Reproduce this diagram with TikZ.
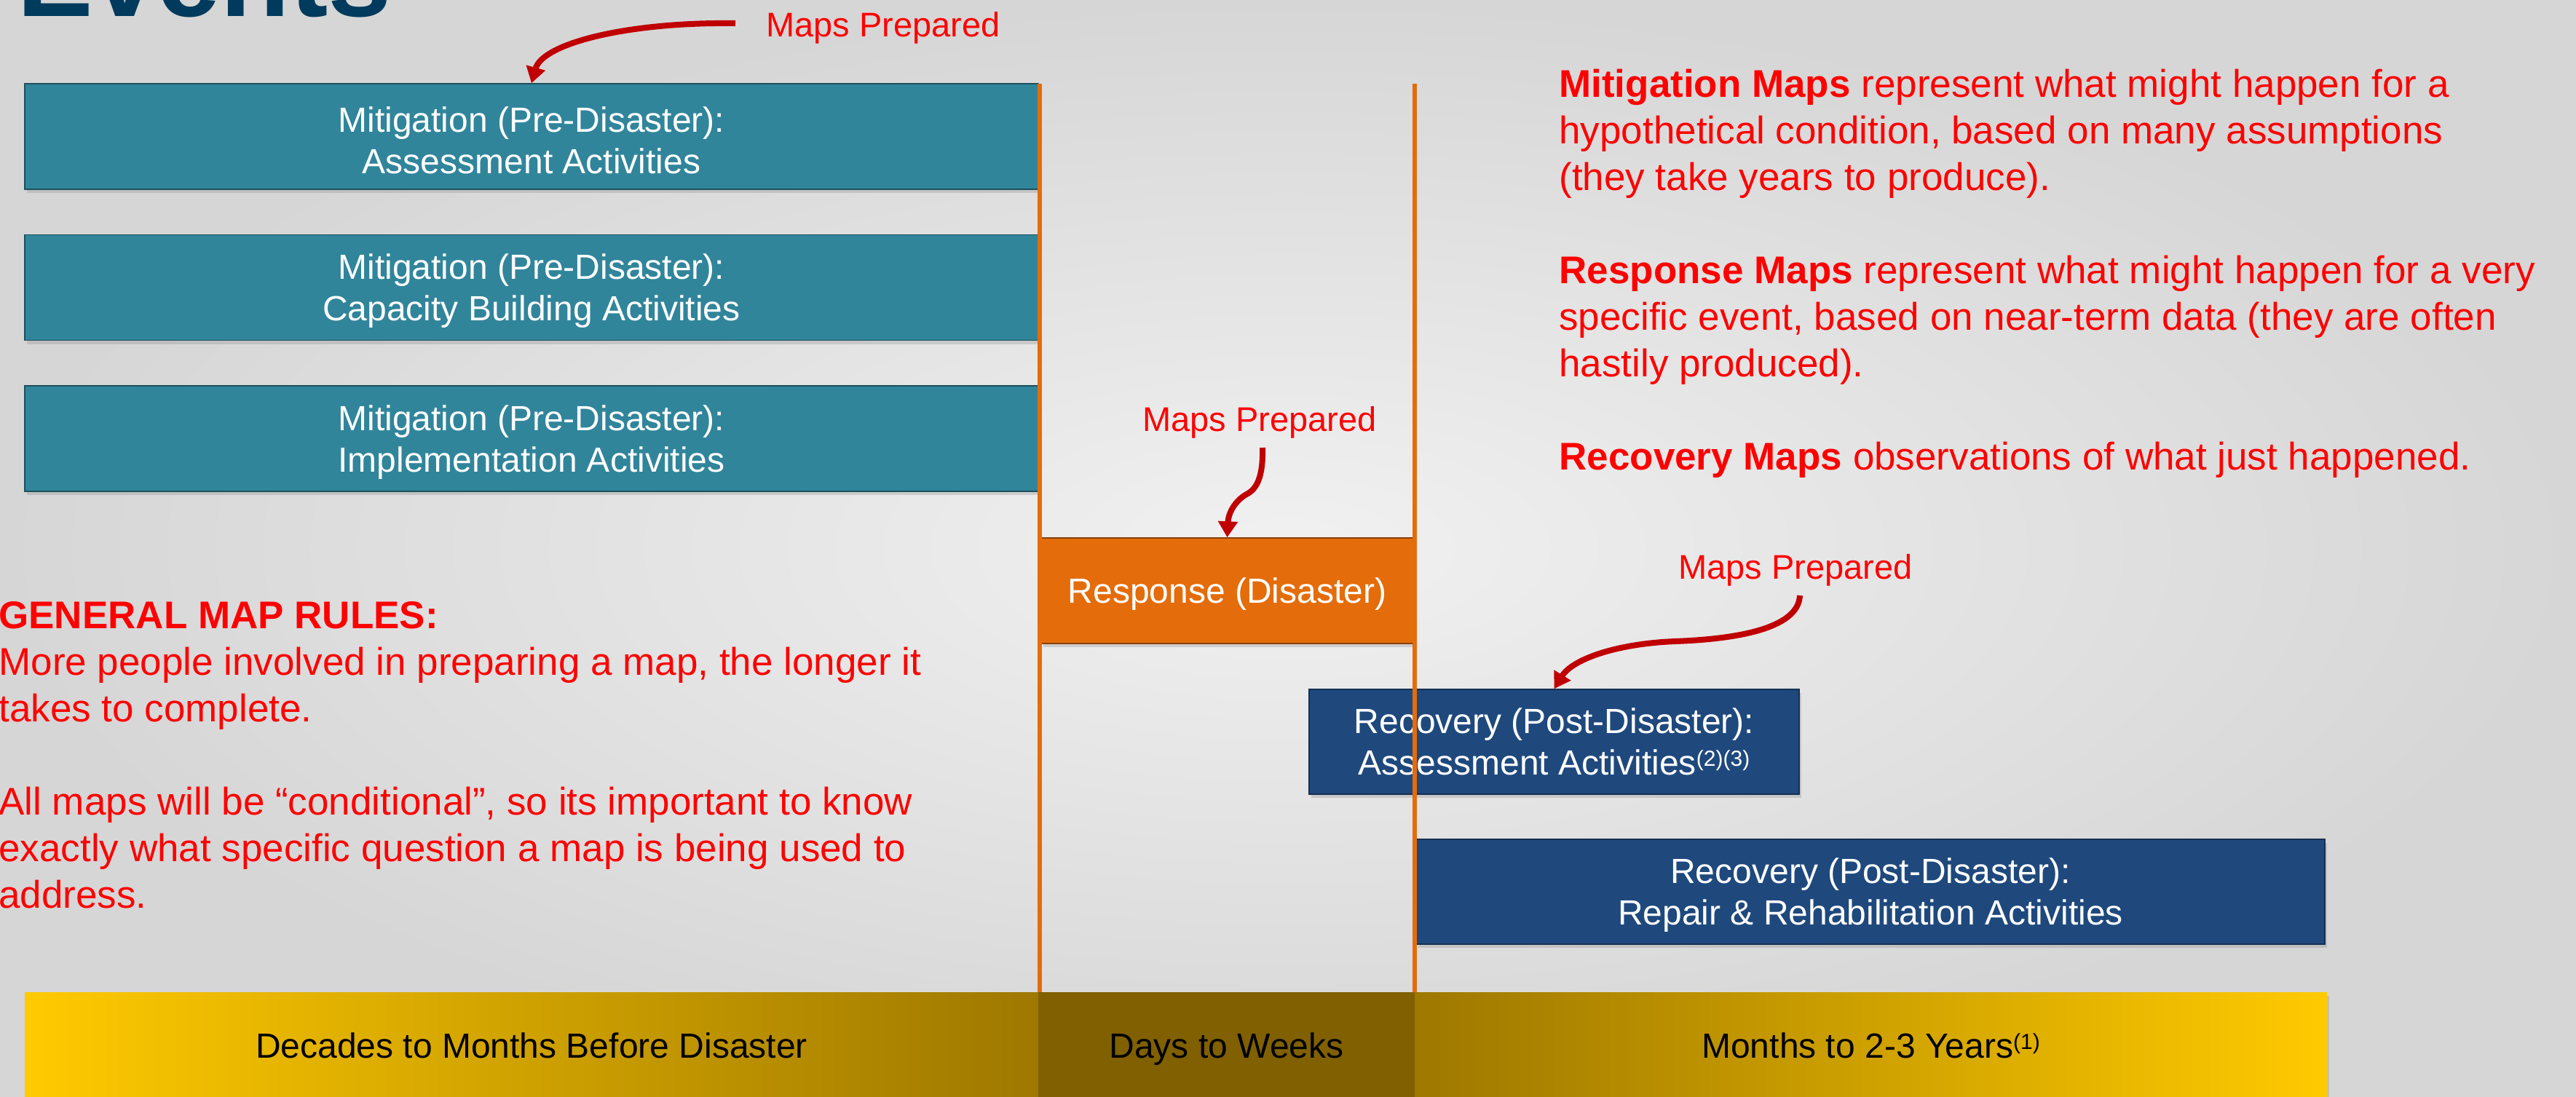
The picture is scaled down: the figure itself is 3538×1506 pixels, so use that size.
\documentclass[tikz,border=0pt]{standalone}
\usepackage{fontspec}
\setmainfont{Liberation Sans}
\usetikzlibrary{arrows.meta,shadows}
\definecolor{tealc}{RGB}{49,133,155}
\definecolor{bluec}{RGB}{31,73,125}
\definecolor{orangec}{RGB}{228,108,10}
\definecolor{redtxt}{RGB}{255,0,0}
\definecolor{arrowred}{RGB}{192,0,0}
\definecolor{titleblue}{RGB}{0,58,92}
\definecolor{goldc}{RGB}{255,202,0}
\definecolor{golddark}{RGB}{158,120,0}
\definecolor{midbar}{RGB}{128,96,0}
\definecolor{bgin}{RGB}{241,241,241}
\definecolor{bgout}{RGB}{214,214,214}
\newcommand{\supx}[1]{\raisebox{6pt}{\fontsize{15}{15}\selectfont #1}}
\newcommand{\firstl}{\rule{0pt}{0.93em}}
\tikzset{
  boxbase/.style={draw, line width=0.75pt, align=center, inner sep=0pt,
    font=\fontsize{24}{28.5}\selectfont,
    drop shadow={shadow xshift=1.5pt, shadow yshift=-2.5pt, opacity=0.28}},
  mitbox/.style={boxbase, text=white, fill=tealc, draw=tealc!60!black,
    minimum width=696pt, minimum height=72.5pt},
  respbox/.style={boxbase, text=white, fill=orangec, draw=orangec!60!black},
  recbox/.style={boxbase, text=white, fill=bluec, draw=bluec!65!black},
  barsec/.style={inner sep=0pt, minimum height=73pt, text=black,
    font=\fontsize{24}{28.5}\selectfont,
    drop shadow={shadow xshift=1.5pt, shadow yshift=-2.5pt, opacity=0.25}},
  vline/.style={draw=orangec, line width=3pt},
  mplabel/.style={text=redtxt, inner sep=0pt, anchor=base west,
    font=\fontsize{23.5}{28}\selectfont},
  redtext/.style={text=redtxt, inner sep=0pt, anchor=north west, align=left,
    font=\fontsize{26.5}{32}\selectfont},
  maparrow/.style={draw=arrowred, line width=4pt,
    -{Triangle[width=13pt,length=11pt]}},
}
\begin{document}
\begin{tikzpicture}[x=0.5pt,y=-0.5pt]
\useasboundingbox (0,0) rectangle (3538,1506);
\fill[inner color=bgin, outer color=bgout] (0,0) rectangle (3538,1506);

% title
\node[anchor=base west, inner sep=0pt, text=titleblue,
  font=\fontsize{78.5}{80}\selectfont\bfseries] (title) at (23,22) {Events};

% mitigation boxes
\node[mitbox] (m1) at (730,187.5) {\firstl Mitigation (Pre-Disaster):\\Assessment Activities};
\node[mitbox] (m2) at (730,395) {\firstl Mitigation (Pre-Disaster):\\Capacity Building Activities};
\node[mitbox] (m3) at (730,602.5) {\firstl Mitigation (Pre-Disaster):\\Implementation Activities};

% response box
\node[respbox, minimum width=255.5pt, minimum height=72.5pt, text depth=0pt] (resp) at (1685.5,811.5) {Response (Disaster)};

% recovery boxes
\node[recbox, minimum width=336.5pt, minimum height=72pt] (rec1) at (2134.5,1019)
  {Recovery (Post-Disaster):\\Assessment Activities\supx{(2)(3)}};
\node[recbox, minimum width=624pt, minimum height=72pt] (rec2) at (2569,1225)
  {\firstl Recovery (Post-Disaster):\\Repair \& Rehabilitation Activities};

% vertical lines
\coordinate (l1t) at (1428,115);
\coordinate (l1b) at (1428,1363);
\coordinate (l2t) at (1943,115);
\coordinate (l2b) at (1943,1363);
\draw[vline] (l1t) -- (l1b);
\draw[vline] (l2t) -- (l2b);

% bottom bar
\node[barsec, left color=goldc, right color=golddark, minimum width=696pt] (b1) at (730,1436)
  {Decades to Months Before Disaster};
\node[barsec, fill=midbar, minimum width=258.5pt, text depth=0pt] (b2) at (1684.5,1436) {Days to Weeks};
\node[barsec, left color=golddark, right color=goldc, minimum width=626.5pt] (b3) at (2569.5,1436)
  {Months to 2-3 Years\supx{(1)}};

% labels
\node[mplabel] (mp1) at (1052,50) {Maps Prepared};
\node[mplabel] (mp2) at (1569,592) {Maps Prepared};
\node[mplabel] (mp3) at (2305,795) {Maps Prepared};

% arrows
\coordinate (a1s) at (1010,32);
\draw[maparrow] (a1s) .. controls (860,30) and (745,60) .. (m1.north);
\coordinate (a2s) at (1734,615);
\coordinate (a2m) at (1712,679);
\draw[maparrow] (a2s) .. controls (1735,655) and (1726,672) .. (a2m)
  .. controls (1696,688) and (1687,705) .. (resp.north);
\coordinate (a3s) at (2472,818);
\coordinate (a3m) at (2301,881);
\draw[maparrow] (a3s) .. controls (2470,865) and (2380,878) .. (a3m)
  .. controls (2222,884) and (2160,905) .. (rec1.north);

% red text blocks
\node[redtext] (rules) at (-2,810) {\rule{0pt}{1em}\textbf{GENERAL MAP RULES:}\\
More people involved in preparing a map, the longer it\\
takes to complete.\\[32pt]
All maps will be “conditional”, so its important to know\\
exactly what specific question a map is being used to\\
address.};
\node[redtext] (defs) at (2141,80) {\rule{0pt}{1em}\textbf{Mitigation Maps} represent what might happen for a\\
hypothetical condition, based on many assumptions\\
(they take years to produce).\\[32pt]
\textbf{Response Maps} represent what might happen for a very\\
specific event, based on near-term data (they are often\\
hastily produced).\\[32pt]
\textbf{Recovery Maps} observations of what just happened.};
\end{tikzpicture}
\end{document}
